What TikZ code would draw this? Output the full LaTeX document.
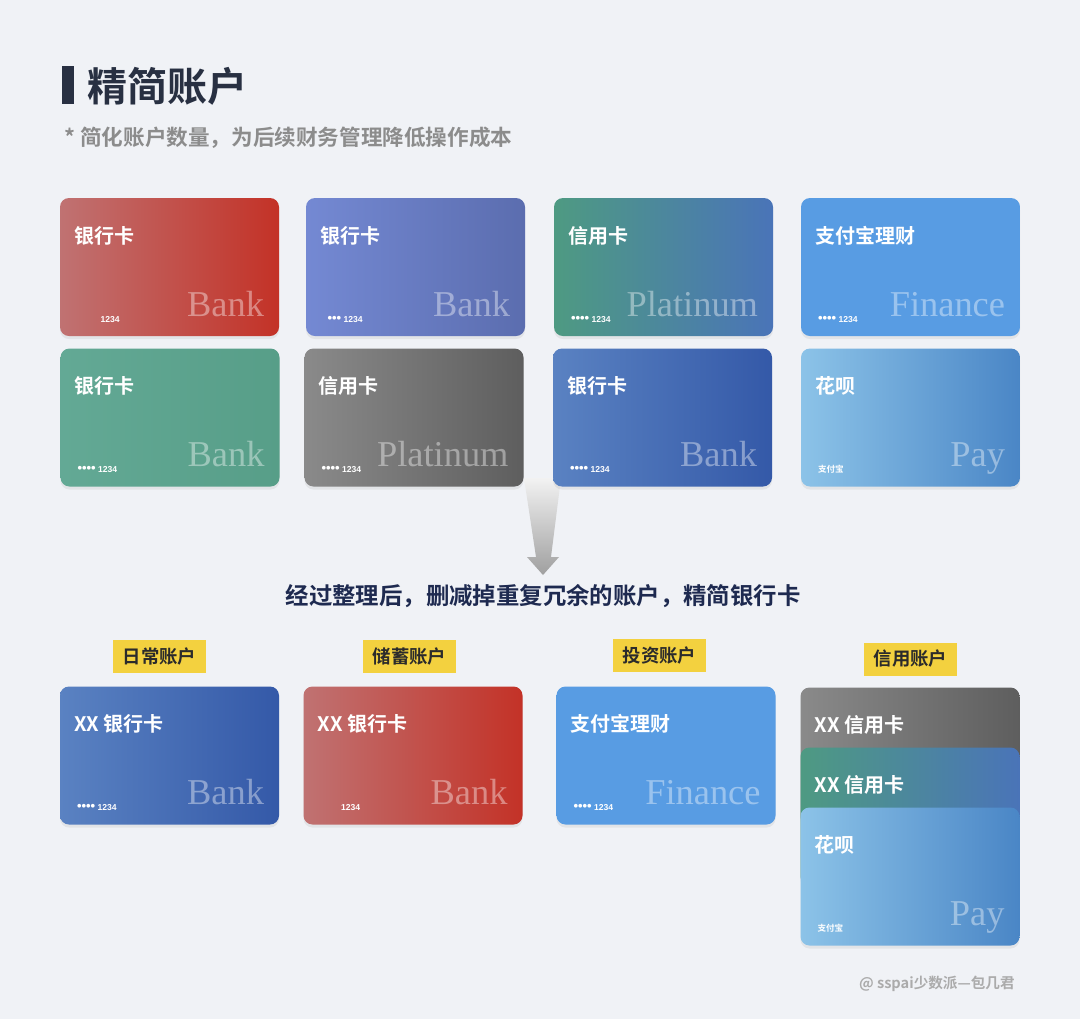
\documentclass[tikz,border=0pt]{standalone}
\usepackage{fontspec}
\setmainfont{Noto Sans CJK SC}[BoldFont={Noto Sans CJK SC Bold}]
\newfontfamily\serf{Liberation Serif}
\newfontfamily\numfont{Liberation Sans}
\usetikzlibrary{calc,shadows}

\definecolor{bgcol}{HTML}{F0F2F6}
\definecolor{titlecol}{HTML}{283042}
\definecolor{subcol}{HTML}{8C8C8C}
\definecolor{capcol}{HTML}{1E2A50}
\definecolor{tagyellow}{HTML}{F3D13F}
\definecolor{tagtext}{HTML}{2B2B2B}
\definecolor{footcol}{HTML}{ABABAB}
\definecolor{redL}{HTML}{C07272}
\definecolor{redR}{HTML}{C33227}
\definecolor{purL}{HTML}{7489D3}
\definecolor{purR}{HTML}{5B6DAF}
\definecolor{tealL}{HTML}{4E9A82}
\definecolor{tealR}{HTML}{4A74B8}
\definecolor{finblue}{HTML}{589CE3}
\definecolor{greenL}{HTML}{63A995}
\definecolor{greenR}{HTML}{579E88}
\definecolor{grayL}{HTML}{8A8A8A}
\definecolor{grayR}{HTML}{5E5E5E}
\definecolor{navyL}{HTML}{5A82C2}
\definecolor{navyR}{HTML}{3459A8}
\definecolor{skyL}{HTML}{8CC3E8}
\definecolor{skyR}{HTML}{4A86C6}

\tikzset{
  card/.style={rounded corners=4.5pt, minimum width=109.5pt, minimum height=69pt, inner sep=0pt,
    drop shadow={opacity=0.12, shadow xshift=0pt, shadow yshift=-1.5pt}},
  cardlabel/.style={anchor=west, inner sep=0pt, text=white, font=\bfseries\fontsize{10}{12}\selectfont},
  cardword/.style={anchor=base east, inner sep=0pt, text=white, text opacity=0.4, font=\serf\fontsize{18.2}{20}\selectfont},
  cardnum/.style={anchor=base west, inner sep=0pt, text=white, font=\numfont\bfseries\fontsize{4.3}{5}\selectfont},
  tagbox/.style={fill=tagyellow, minimum width=46.5pt, minimum height=16.5pt, inner sep=0pt, text=tagtext, font=\bfseries\fontsize{9.2}{10}\selectfont}
}

\newcommand{\pins}[1]{{\fontsize{6.5}{7}\selectfont #1}}

% name, centre, left colour, right colour, label, word, number
\newcommand{\walletcard}[7]{%
  \node[card, left color=#3, right color=#4] (#1) at (#2) {};
  \node[cardlabel] (#1-label) at ($(#1.north west)+(14,38)$) {#5};
  \node[cardword] (#1-word) at ($(#1.south east)+(-15,-20)$) {#6};
  \node[cardnum] (#1-num) at ($(#1.south west)+(17,-14)$) {#7};
}

\begin{document}
\begin{tikzpicture}[x=0.5pt, y=-0.5pt]
  \fill[bgcol] (0,0) rectangle (1080,1019);
  \useasboundingbox (0,0) rectangle (1080,1019);

  % heading
  \fill[titlecol] (62,66) rectangle (74,104);
  \node[anchor=west, inner sep=0pt, text=titlecol, font=\bfseries\fontsize{20}{22}\selectfont] (title) at (87,86) {精简账户};
  \node[anchor=west, inner sep=0pt, text=subcol, font=\bfseries\fontsize{10.8}{12}\selectfont] (subtitle) at (64,138) {* 简化账户数量，为后续财务管理降低操作成本};

  % arrow behind the cards
  \shade[top color=white!90!gray, bottom color=gray!75] (524,478) -- (561,478) -- (551,557) -- (559,557) -- (543,575) -- (527,557) -- (536,557) -- cycle;

  % cards before
  \walletcard{c1}{169.5,267}{redL}{redR}{银行卡}{Bank}{\phantom{\pins{••••} }\hspace{1.5pt}1234}
  \walletcard{c2}{415.5,267}{purL}{purR}{银行卡}{Bank}{\pins{\phantom{•}•••} 1234}
  \walletcard{c3}{663.5,267}{tealL}{tealR}{信用卡}{Platinum}{\pins{••••} 1234}
  \walletcard{c4}{910.5,267}{finblue}{finblue}{支付宝理财}{Finance}{\pins{••••} 1234}
  \walletcard{c5}{170,417.5}{greenL}{greenR}{银行卡}{Bank}{\pins{••••} 1234}
  \walletcard{c6}{414,417.5}{grayL}{grayR}{信用卡}{Platinum}{\pins{••••} 1234}
  \walletcard{c7}{662.5,417.5}{navyL}{navyR}{银行卡}{Bank}{\pins{••••} 1234}
  \walletcard{c8}{910.5,417.5}{skyL}{skyR}{花呗}{Pay}{{\rmfamily 支付宝}}

  \node[inner sep=0pt, text=capcol, font=\bfseries\fontsize{11.7}{13}\selectfont] (caption) at (543,596) {经过整理后，删减掉重复冗余的账户，精简银行卡};

  % account groups
  \node[tagbox] (t1) at (159.5,656.5) {日常账户};
  \node[tagbox] (t2) at (409.5,656.5) {储蓄账户};
  \node[tagbox] (t3) at (659.5,655.5) {投资账户};
  \node[tagbox] (t4) at (910.5,659) {信用账户};

  % cards after
  \walletcard{a1}{169.5,755.5}{navyL}{navyR}{XX 银行卡}{Bank}{\pins{••••} 1234}
  \walletcard{a2}{413,755.5}{redL}{redR}{XX 银行卡}{Bank}{\phantom{\pins{••••} }1234}
  \walletcard{a3}{666,755.5}{finblue}{finblue}{支付宝理财}{Finance}{\pins{••••} 1234}
  \walletcard{a4}{910,756.5}{grayL}{grayR}{XX 信用卡}{}{}
  \walletcard{a5}{910,816.5}{tealL}{tealR}{XX 信用卡}{}{}
  \walletcard{a6}{910,876.5}{skyL}{skyR}{花呗}{Pay}{{\rmfamily 支付宝}}

  \node[anchor=east, inner sep=0pt, text=footcol, font=\bfseries\fontsize{7.3}{9}\selectfont] (credit) at (1015,984) {@ sspai少数派—包几君};
\end{tikzpicture}
\end{document}
